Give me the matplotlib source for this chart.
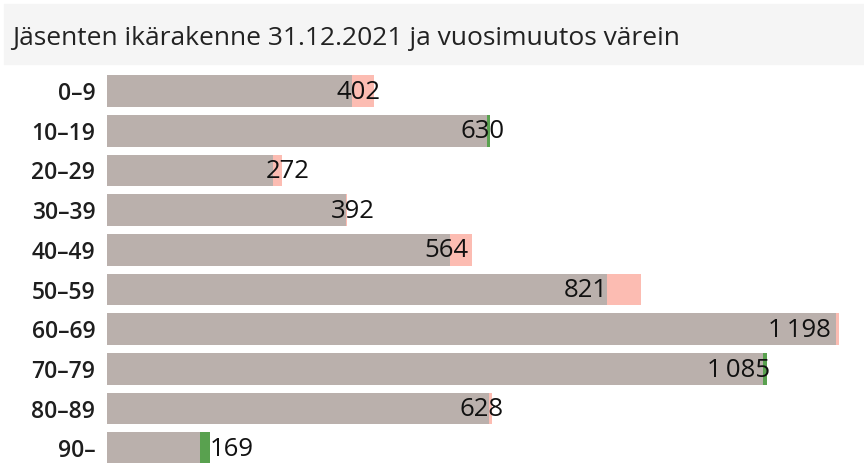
import matplotlib.pyplot as plt
from matplotlib.patches import Rectangle

plt.rcParams["font.family"] = ["Open Sans", "DejaVu Sans"]

ryhmat = ["0–9", "10–19", "20–29", "30–39", "40–49",
          "50–59", "60–69", "70–79", "80–89", "90–"]
jasenet_2021 = [402, 630, 272, 392, 564, 821, 1198, 1085, 628, 169]
jasenet_2020 = [439, 624, 288, 395, 600, 878, 1203, 1078, 633, 153]

HARMAA = "#bab0ac"
PUNAINEN = "#fcbcb2"
VIHREA = "#59a14f"

fig = plt.figure(figsize=(8.64, 4.63), dpi=100)
W, H = 864, 463

# otsikkokaista
fig.patches.append(Rectangle((4 / W, 1 - 64 / H), 1, 60 / H,
                             transform=fig.transFigure, color="#f5f5f5", zorder=0))
fig.text(12 / W, 1 - 45 / H, "Jäsenten ikärakenne 31.12.2021 ja vuosimuutos värein",
         fontsize=19, color="#222222", va="baseline", ha="left")

px = 0.6085  # pikseliä / jäsen
x0 = 107
ax = fig.add_axes([x0 / W, 0, 1 - x0 / W, 1 - 66 / H])
ax.set_xlim(0, (W - x0) / px)
rivi = 39.7
ax.set_ylim((463 - 91) / rivi, -(91 - 66) / rivi)

y = list(range(len(ryhmat)))
pohja = [min(a, b) for a, b in zip(jasenet_2021, jasenet_2020)]
kasvu = [max(a - b, 0) for a, b in zip(jasenet_2021, jasenet_2020)]
lasku = [max(b - a, 0) for a, b in zip(jasenet_2021, jasenet_2020)]

ax.barh(y, pohja, height=0.8, color=HARMAA, linewidth=0)
ax.barh(y, kasvu, left=pohja, height=0.8, color=VIHREA, linewidth=0)
ax.barh(y, lasku, left=jasenet_2021, height=0.8, color=PUNAINEN, linewidth=0)

for i, v in enumerate(jasenet_2021):
    teksti = f"{v:,}".replace(",", "\u2009")
    ax.text(0.891 * v + 19, i + 0.03, teksti, fontsize=18.5, color="#111111",
            ha="left", va="center")

ax.set_yticks(y)
ax.set_yticklabels(ryhmat, fontsize=16.5, color="#1e1e1e", fontweight="semibold")
ax.tick_params(axis="y", length=0, pad=8.5)
ax.set_xticks([])
for s in ax.spines.values():
    s.set_visible(False)

fig.savefig("out.png", dpi=100)
